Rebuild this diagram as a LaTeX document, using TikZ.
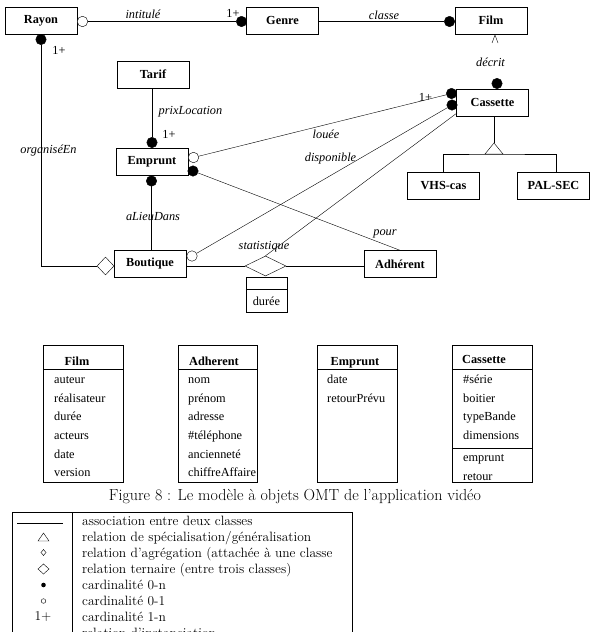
\documentclass[tikz,border=0pt]{standalone}
\usepackage{fontspec}
\newfontfamily\tms{Liberation Serif}
\usetikzlibrary{positioning, shapes.geometric}
\tikzset {
    x=1pt, y=-1pt,
    line width=0.6pt,
    box/.style={draw, minimum width=72pt, minimum height=27pt, inner sep=0pt, font=\tms\bfseries\fontsize{12.3}{14}\selectfont},
    dot/.style={circle, draw, fill=black, minimum size=10.5pt, inner sep=0pt},
    hole/.style={circle, draw, fill=white, minimum size=10.5pt, inner sep=0pt},
    role/.style={font=\tms\itshape\fontsize{12.3}{14}\selectfont, inner sep=0pt},
    mult/.style={font=\tms\fontsize{12.3}{14}\selectfont, inner sep=0pt},
    tbl/.style={draw, minimum height=137pt, inner sep=0pt},
    head/.style={anchor=base, font=\tms\bfseries\fontsize{12.3}{14}\selectfont, inner sep=0pt},
    attr/.style={anchor=base west, font=\tms\fontsize{12.3}{14}\selectfont, inner sep=0pt},
    key/.style={anchor=base west, font=\fontsize{13.5}{15}\selectfont, inner sep=0pt}
}

\begin{document}
\begin{tikzpicture}
\useasboundingbox (0,0) rectangle (593,632);

% classes
\node[box] (rayon) at (41,20.5) {Rayon};
\node[box] (genre) at (282.5,20.5) {Genre};
\node[box] (film) at (491,20.5) {Film};
\node[box] (tarif) at (153,74.5) {Tarif};
\node[box] (cassette) at (492.5,102.5) {Cassette};
\node[box] (emprunt) at (152,161.5) {Emprunt};
\node[box] (vhs) at (443.5,185.5) {VHS-cas};
\node[box] (pal) at (553.5,185.5) {PAL-SEC};
\node[box] (boutique) at (150,263.5) {Boutique};
\node[box] (adherent) at (400,264) {Adhérent};

% cardinalites
\node[hole] (h_rayon) at (82.5,21.5) {};
\node[dot] (d_genre) at (241.5,21.5) {};
\node[dot] (d_film) at (449.5,21.5) {};
\node[dot] (d_rayon) at (41,39.5) {};
\node[dot] (d_prix) at (152,142.5) {};
\node[dot] (d_lieu) at (151.5,181) {};
\node[hole] (h_louee) at (193.5,157.5) {};
\node[dot] (d_pour) at (193,171) {};
\node[hole] (h_dispo) at (192,256) {};
\node[dot] (d_louee) at (451.5,93.5) {};
\node[dot] (d_dispo) at (452,105) {};
\node[dot] (d_decrit) at (497,83.5) {};

% agregation et relation ternaire
\node[diamond, draw, minimum width=17pt, minimum height=18pt, inner sep=0pt] (agg) at (105.5,266) {};
\node[diamond, draw, minimum width=41pt, minimum height=20pt, inner sep=0pt] (tern) at (265.5,266) {};
\node[draw, minimum width=41pt, minimum height=35pt, inner sep=0pt] (stat) at (266.5,294.5) {};
\draw ([yshift=-12pt]stat.north west) -- ([yshift=-12pt]stat.north east);
\node[mult] (stat_duree) at (266.5,301) {durée};

\coordinate (c_stat) at (457,113);
\coordinate (g_top) at (494,143);
\coordinate (g_base) at (494,154);

% associations
\draw (h_rayon) -- (d_genre);
\draw (genre.east |- d_film) -- (d_film);
\draw (d_rayon) |- (agg.west);
\draw (d_prix |- tarif.south) -- (d_prix);
\draw (d_lieu) -- (d_lieu |- boutique.north);
\draw (h_louee) -- (d_louee);
\draw (d_pour) -- (adherent.north);
\draw (h_dispo) -- (d_dispo);
\draw (tern.north) -- (c_stat);
\draw (boutique.east |- tern) -- (tern.west);
\draw (tern.east) -- (tern -| adherent.west);
\draw (492,43) -- (495,35) -- (498,43);

% generalisation
\draw (g_top |- cassette.south) -- (g_top);
\draw (485,154) -- (g_top) -- (503,154) -- cycle;
\draw (vhs.north) |- (g_base) -| ([xshift=3pt]pal.north);

% roles
\node[role] (l_intitule) at (143,14) {intitulé};
\node[mult] (m_genre) at (233,13) {1+};
\node[role] (l_classe) at (384,15) {classe};
\node[role] (l_decrit) at (490.5,62) {décrit};
\node[mult] (m_rayon) at (59,50) {1+};
\node[role] (l_prix) at (190.5,112) {prixLocation};
\node[mult] (m_emprunt) at (169,134) {1+};
\node[mult] (m_cassette) at (425.5,97) {1+};
\node[role] (l_louee) at (326,134) {louée};
\node[role] (l_dispo) at (330.5,159) {disponible};
\node[role] (l_organise) at (48.5,151) {organiséEn};
\node[role] (l_lieu) at (153,216) {aLieuDans};
\node[role] (l_stat) at (264,247) {statistique};
\node[role] (l_pour) at (385,234) {pour};

% classes detaillees
\node[tbl, minimum width=80pt] (t_film) at (83,413.5) {};
\node[tbl, minimum width=79pt] (t_adh) at (217.5,413.5) {};
\node[tbl, minimum width=80pt] (t_emp) at (357,413.5) {};
\node[tbl, minimum width=80pt] (t_cas) at (492,413.5) {};
\foreach \t in {t_film, t_adh, t_emp, t_cas}
    \draw ([yshift=-24pt]\t.north west) -- ([yshift=-24pt]\t.north east);
\draw (t_cas.west |- 0,448) -- (t_cas.east |- 0,448);

\node[head] (n_film) at (77,365) {Film};
\node[head] (n_adh) at (214,365) {Adherent};
\node[head] (n_emp) at (355,365) {Emprunt};
\node[head, anchor=base west] (n_cas) at (462,363.5) {Cassette};

\foreach \a [count=\i] in {auteur, réalisateur, durée, acteurs, date, version}
    \node[attr] (a_film\i) at (54,364.6+18.7*\i) {\a};
\foreach \a [count=\i] in {nom, prénom, adresse, \#téléphone, ancienneté, chiffreAffaire}
    \node[attr] (a_adh\i) at (188,364.6+18.7*\i) {\a};
\foreach \a [count=\i] in {date, retourPrévu}
    \node[attr] (a_emp\i) at (327,364.6+18.7*\i) {\a};
\foreach \a [count=\i] in {\#série, boitier, typeBande, dimensions}
    \node[attr] (a_cas\i) at (463,364.6+18.7*\i) {\a};
\node[attr] (o_cas1) at (463,461) {emprunt};
\node[attr] (o_cas2) at (463,480) {retour};

\node[font=\fontsize{16}{18}\selectfont, inner sep=0pt] (caption) at (295,497) {Figure 8 : Le modèle à objets OMT de l'application vidéo};

% legende
\draw (12,660) |- (352,512) -- (352,660);
\draw (72,512) -- (72,660);
\foreach \txt [count=\i] in {association entre deux classes, relation de spécialisation/généralisation, relation d'agrégation (attachée à une classe, relation ternaire (entre trois classes), cardinalité 0-n, cardinalité 0-1, cardinalité 1-n, relation d'instanciation}
    \node[key] (k\i) at (82,509.5+16*\i) {\txt};
\draw (17,523) -- (63,523);
\draw (38,541) -- (43.5,533) -- (49,541) -- cycle;
\draw (43.5,549.5) -- (46,552.5) -- (43.5,555.5) -- (41,552.5) -- cycle;
\draw (43.5,564) -- (49,569) -- (43.5,574) -- (38,569) -- cycle;
\fill (43.5,585) circle[radius=2.3pt];
\draw (43.5,601) circle[radius=2.3pt];
\node[font=\fontsize{13.5}{15}\selectfont, inner sep=0pt] (k_mult) at (43,617) {1+};
\end{tikzpicture}
\end{document}
